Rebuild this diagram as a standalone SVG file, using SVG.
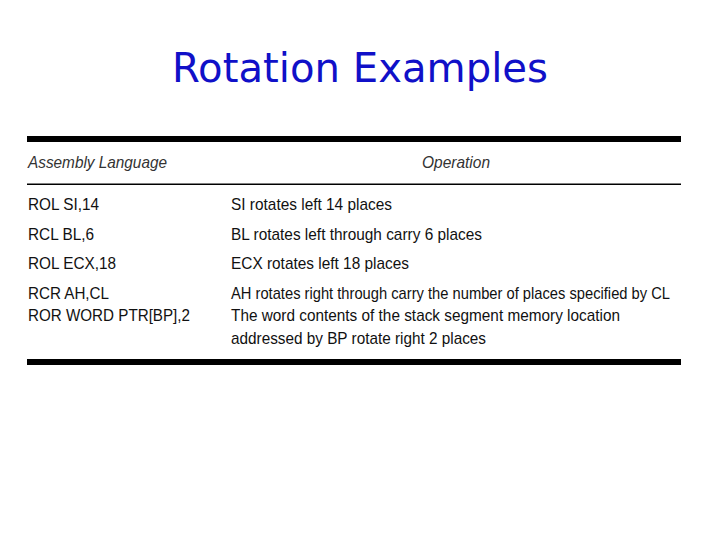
<svg xmlns="http://www.w3.org/2000/svg" width="720" height="540" viewBox="0 0 720 540">
<style>
.t{font-family:"Liberation Sans",Arial,sans-serif;font-size:17px;fill:#111}
.h{font-style:italic;fill:#333}
</style>
<rect width="720" height="540" fill="#fff"/>
<text x="360" y="82" text-anchor="middle" font-family="'DejaVu Sans',sans-serif" font-size="40" fill="#1010c8" textLength="376" lengthAdjust="spacingAndGlyphs">Rotation Examples</text>
<g id="table">
<rect x="27" y="136" width="654" height="6" fill="#000"/>
<rect x="27" y="183.5" width="654" height="1.5" fill="#000"/>
<rect x="27" y="359" width="654" height="6" fill="#000"/>
<text class="t h" x="28" y="168" textLength="139" lengthAdjust="spacingAndGlyphs">Assembly Language</text>
<text class="t h" x="422" y="168" textLength="68" lengthAdjust="spacingAndGlyphs">Operation</text>
<text class="t" x="28" y="210" textLength="71" lengthAdjust="spacingAndGlyphs">ROL SI,14</text>
<text class="t" x="28" y="240" textLength="66" lengthAdjust="spacingAndGlyphs">RCL BL,6</text>
<text class="t" x="28" y="269" textLength="88" lengthAdjust="spacingAndGlyphs">ROL ECX,18</text>
<text class="t" x="28" y="299" textLength="81" lengthAdjust="spacingAndGlyphs">RCR AH,CL</text>
<text class="t" x="28" y="321" textLength="162" lengthAdjust="spacingAndGlyphs">ROR WORD PTR[BP],2</text>
<text class="t" x="231" y="210" textLength="161" lengthAdjust="spacingAndGlyphs">SI rotates left 14 places</text>
<text class="t" x="231" y="240" textLength="251" lengthAdjust="spacingAndGlyphs">BL rotates left through carry 6 places</text>
<text class="t" x="231" y="269" textLength="178" lengthAdjust="spacingAndGlyphs">ECX rotates left 18 places</text>
<text class="t" x="231" y="299" textLength="439" lengthAdjust="spacingAndGlyphs">AH rotates right through carry the number of places specified by CL</text>
<text class="t" x="231" y="321" textLength="389" lengthAdjust="spacingAndGlyphs">The word contents of the stack segment memory location</text>
<text class="t" x="231" y="344" textLength="255" lengthAdjust="spacingAndGlyphs">addressed by BP rotate right 2 places</text>
</g>
</svg>
